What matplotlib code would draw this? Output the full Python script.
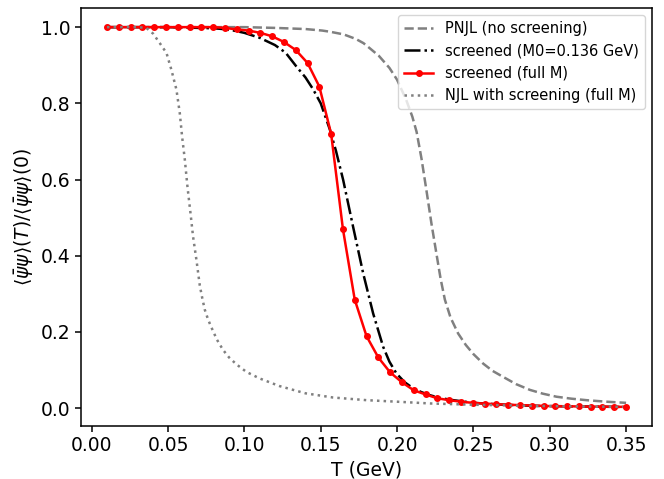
import numpy as np
import matplotlib
matplotlib.use("Agg")
import matplotlib.pyplot as plt

# red: screened (full M)
T_red = np.linspace(0.01, 0.35, 45)
y_red = [1.0, 1.0, 1.0, 1.0, 1.0, 1.0, 1.0, 1.0, 1.0, 1.0,
         0.998, 0.994, 0.991, 0.985, 0.976, 0.961, 0.940, 0.906, 0.844, 0.720,
         0.470, 0.285, 0.189, 0.133, 0.094, 0.068, 0.047, 0.036, 0.026, 0.021,
         0.017, 0.014, 0.012, 0.0105, 0.009, 0.008, 0.007, 0.006, 0.005, 0.005,
         0.0045, 0.004, 0.004, 0.0035, 0.0035]

# black: screened (M0 = 0.136 GeV)
T_blk = [0.01, 0.03, 0.05, 0.06, 0.07, 0.08, 0.086, 0.093, 0.10, 0.11, 0.12, 0.127, 0.134, 0.14,
         0.145, 0.15, 0.156, 0.160, 0.1647, 0.1712, 0.1778, 0.1843, 0.1909, 0.195, 0.1996,
         0.205, 0.2106, 0.216, 0.2215, 0.228, 0.235, 0.25, 0.27, 0.29, 0.31, 0.33, 0.35]
y_blk = [1.0, 1.0, 1.0, 0.999, 0.998, 0.997, 0.995, 0.991, 0.985, 0.972, 0.953, 0.933, 0.897, 0.868,
         0.837, 0.800, 0.731, 0.675, 0.599, 0.476, 0.354, 0.249, 0.161, 0.122, 0.091,
         0.068, 0.052, 0.042, 0.034, 0.027, 0.022, 0.014, 0.009, 0.006, 0.005, 0.004, 0.003]

# gray dashed: PNJL (no screening)
T_pnjl = [0.01, 0.05, 0.10, 0.12, 0.14, 0.151, 0.156, 0.165, 0.173, 0.178, 0.182, 0.188,
          0.195, 0.200, 0.206, 0.210, 0.2128, 0.216, 0.2193, 0.2225, 0.2258, 0.2285, 0.2313,
          0.235, 0.240, 0.245, 0.250, 0.2564, 0.2625, 0.2695, 0.278, 0.287, 0.2955, 0.3045,
          0.314, 0.324, 0.337, 0.35]
y_pnjl = [1.0, 1.0, 1.0, 0.998, 0.995, 0.991, 0.988, 0.981, 0.969, 0.958, 0.945, 0.925,
          0.893, 0.862, 0.809, 0.765, 0.725, 0.655, 0.570, 0.485, 0.405, 0.340, 0.285,
          0.238, 0.196, 0.166, 0.142, 0.117, 0.098, 0.082, 0.063, 0.048, 0.038, 0.030,
          0.025, 0.021, 0.017, 0.014]

# gray dotted: NJL with screening (full M)
T_njl = [0.01, 0.02, 0.03, 0.0358, 0.0402, 0.0446, 0.049, 0.0522, 0.0555, 0.0577, 0.0592,
         0.061, 0.0627, 0.0647, 0.0664, 0.0686, 0.0708, 0.0725, 0.0741, 0.0762, 0.0784,
         0.082, 0.086, 0.090, 0.0948, 0.1014, 0.11, 0.123, 0.14, 0.158, 0.18, 0.2018,
         0.2215, 0.25, 0.287, 0.32, 0.348]
y_njl = [1.0, 1.0, 1.0, 0.998, 0.983, 0.958, 0.932, 0.888, 0.836, 0.774, 0.713,
         0.652, 0.582, 0.512, 0.450, 0.389, 0.322, 0.287, 0.258, 0.233, 0.212,
         0.180, 0.153, 0.133, 0.115, 0.095, 0.078, 0.058, 0.039, 0.028, 0.021, 0.0166,
         0.0124, 0.009, 0.006, 0.0045, 0.0035]

fig = plt.figure(figsize=(6.64, 4.79), dpi=100)
ax = fig.add_axes([0.122, 0.1106, 0.860, 0.8724])

ax.plot(T_pnjl, y_pnjl, '--', color='gray', lw=1.8, label='PNJL (no screening)')
ax.plot(T_blk, y_blk, '-.', color='black', lw=1.8, label='screened (M0=0.136 GeV)')
ax.plot(T_red, y_red, '-', color='red', marker='o', ms=4, lw=1.8, label='screened (full M)')
ax.plot(T_njl, y_njl, ':', color='gray', lw=1.8, label='NJL with screening (full M)')

ax.set_xlabel('T (GeV)', fontsize=13.5)
ax.set_ylabel(r'$\langle\bar{\psi}\psi\rangle(T)/\langle\bar{\psi}\psi\rangle(0)$', fontsize=13.5)
ax.tick_params(labelsize=13.5, width=1.1, length=4)
for s in ax.spines.values():
    s.set_linewidth(1.1)
ax.set_xticks([0.0, 0.05, 0.10, 0.15, 0.20, 0.25, 0.30, 0.35])
ax.set_yticks([0.0, 0.2, 0.4, 0.6, 0.8, 1.0])
ax.legend(loc='upper right', fontsize=10.5)

fig.savefig('out.png', dpi=100)
